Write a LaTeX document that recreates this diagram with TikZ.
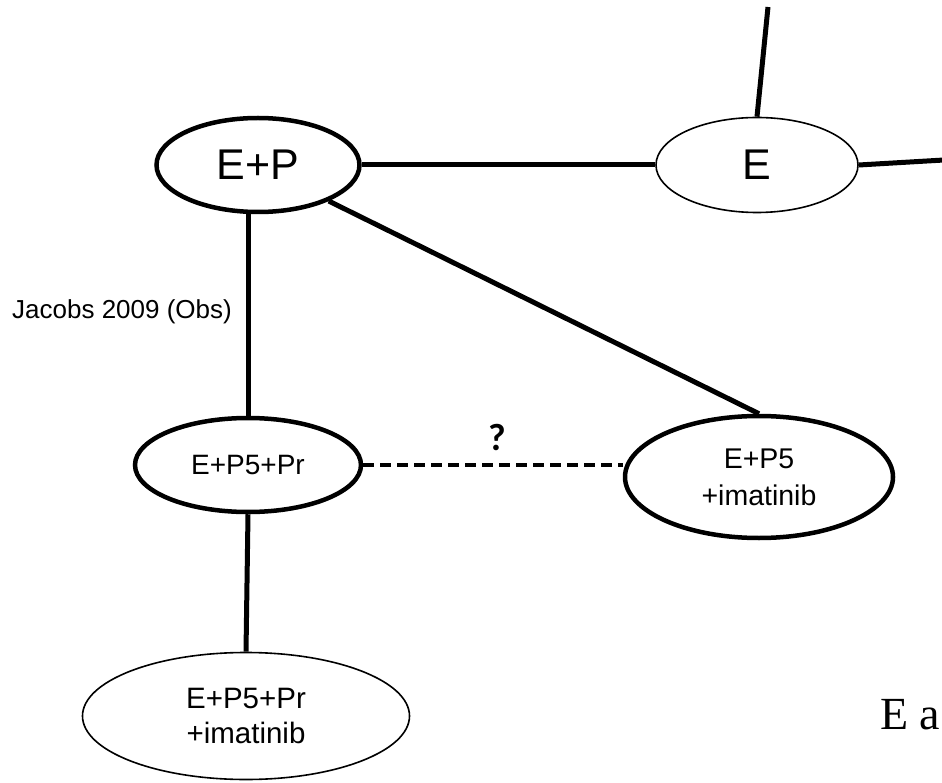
\documentclass[tikz,border=0pt]{standalone}
\usepackage{fontspec}
\setmainfont{Liberation Sans}
\newfontfamily\seriffont{Liberation Serif}
\newfontfamily\qfont{Carlito}
\usetikzlibrary{shapes.geometric}
\tikzset{
  thickell/.style={ellipse, draw, line width=4.5pt, inner sep=0pt, align=center},
  thinell/.style={ellipse, draw, line width=1.6pt, inner sep=0pt, align=center},
  conn/.style={line width=5pt},
  dconn/.style={line width=4pt, dash pattern=on 11pt off 6pt},
}
\begin{document}
\begin{tikzpicture}[x=1pt,y=-1pt]
\useasboundingbox (0,0) rectangle (942,783);
\clip (0,0) rectangle (942,783);
\node[thickell, minimum width=203pt, minimum height=94pt, font=\fontsize{43}{50}\selectfont] (ep) at (258,165) {E+P};
\node[thinell, minimum width=202pt, minimum height=95pt, font=\fontsize{43}{50}\selectfont] (e) at (757,165) {E};
\node[thickell, minimum width=226pt, minimum height=94pt, font=\fontsize{28}{37}\selectfont] (epp) at (248,465) {E+P5+Pr};
\node[thickell, minimum width=268pt, minimum height=122pt, font=\fontsize{28.5}{37}\selectfont] (epi) at (759,477) {E+P5\\+imatinib};
\node[thinell, minimum width=327pt, minimum height=127pt, font=\fontsize{29.5}{35}\selectfont] (eppi) at (246,716) {E+P5+Pr\\+imatinib};
\coordinate (etop) at (768,7);
\coordinate (eright) at (944,160);
\draw[conn] (ep) -- (e);
\draw[conn] (e.north) -- (etop);
\draw[conn] (e.east) -- (eright);
\draw[conn] (epp.north) -- (epp.north |- ep.south);
\draw[conn] (ep.-27) -- (epi.north);
\draw[dconn] (epp.east) -- (epp.east -| epi.west);
\draw[conn] (epp.south) -- (eppi.north);
\node[anchor=west, font=\fontsize{26}{30}\selectfont, inner sep=0pt] (jac) at (12,312) {Jacobs 2009 (Obs)};
\node[font=\qfont\bfseries\fontsize{38}{44}\selectfont, inner sep=0pt] (q) at (497,438) {?};
\node[anchor=base west, font=\seriffont\fontsize{46}{54}\selectfont, inner sep=0pt] (ea) at (880,729) {E a};
\end{tikzpicture}
\end{document}
